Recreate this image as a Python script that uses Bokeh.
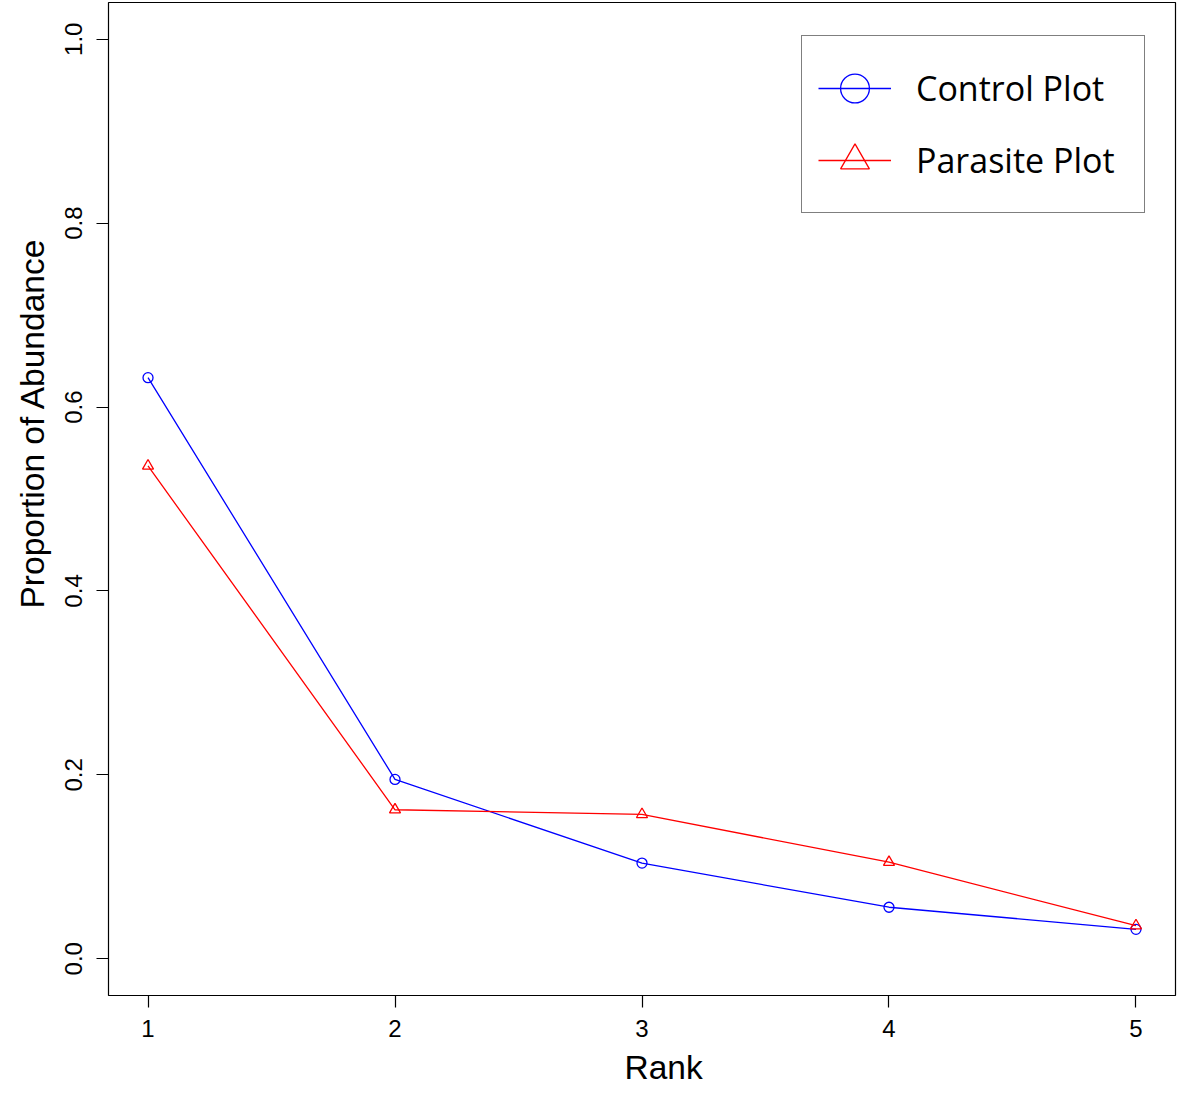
from bokeh.plotting import figure
from bokeh.models import Range1d, FixedTicker, Legend, LegendItem, Title
from bokeh.embed import file_html
from bokeh.resources import INLINE

# Rank-abundance data for the two plots
rank = [1, 2, 3, 4, 5]
control = [0.632, 0.195, 0.104, 0.056, 0.032]
parasite = [0.536, 0.162, 0.157, 0.105, 0.036]

y_ticks = [0.0, 0.2, 0.4, 0.6, 0.8, 1.0]
y_tick_labels = {0.0: "0.0", 0.2: "0.2", 0.4: "0.4", 0.6: "0.6", 0.8: "0.8", 1.0: "1.0"}

FONT = "Liberation Sans"

p = figure(
    width=1177, height=1093,
    x_range=Range1d(0.84, 5.16), y_range=Range1d(-0.04, 1.04),
    output_backend="svg", toolbar_location=None,
    min_border_left=108, min_border_right=2, min_border_top=2, min_border_bottom=98,
)
p.background_fill_color = "white"
p.border_fill_color = "white"
p.outline_line_color = "black"
p.outline_line_width = 1.2
p.xgrid.visible = False
p.ygrid.visible = False

# axes
p.xaxis.ticker = FixedTicker(ticks=rank)
p.xaxis.major_label_overrides = {r: str(r) for r in rank}
p.yaxis.ticker = FixedTicker(ticks=y_ticks)
p.yaxis.major_label_overrides = y_tick_labels
p.yaxis.major_label_orientation = "vertical"

for ax in (p.xaxis[0], p.yaxis[0]):
    ax.axis_line_color = None
    ax.minor_tick_line_color = None
    ax.major_tick_in = 0
    ax.major_tick_out = 12
    ax.major_tick_line_color = "black"
    ax.major_tick_line_width = 1.2
    ax.major_label_text_font = FONT
    ax.major_label_text_font_size = "24px"
    ax.major_label_text_color = "black"

p.xaxis.major_label_standoff = 12
p.yaxis.major_label_standoff = 14

# axis titles, placed as side titles so they can be offset along the axis
x_title = Title(text="Rank", align="left", offset=516, standoff=14,
                vertical_align="bottom",
                text_font=FONT, text_font_size="33.5px", text_font_style="normal",
                text_color="black")
y_title = Title(text="Proportion of Abundance", align="left", offset=387, standoff=20,
                vertical_align="top",
                text_font=FONT, text_font_size="33.5px", text_font_style="normal",
                text_color="black")
p.add_layout(x_title, "below")
p.add_layout(y_title, "left")

# series
c_line = p.line(rank, control, line_color="#0000FF", line_width=1.3)
c_pts = p.scatter(rank, control, marker="circle", size=10, fill_color=None,
                  line_color="#0000FF", line_width=1.3)
r_line = p.line(rank, parasite, line_color="#FF0000", line_width=1.3)
r_pts = p.scatter(rank, parasite, marker="triangle", size=11, fill_color=None,
                  line_color="#FF0000", line_width=1.3)

legend = Legend(
    items=[
        LegendItem(label="Control Plot", renderers=[c_line, c_pts]),
        LegendItem(label="Parasite Plot", renderers=[r_line, r_pts]),
    ],
    location=(693, 782),
    glyph_width=73, glyph_height=72,
    label_standoff=25, label_width=212,
    label_text_font="Open Sans", label_text_font_size="34px",
    label_text_color="black",
    padding=16, spacing=0, margin=0,
    border_line_color="black", border_line_width=1.2,
    background_fill_color="white", background_fill_alpha=1.0,
)
p.add_layout(legend)

open("out.html", "w").write(file_html(p, INLINE))
